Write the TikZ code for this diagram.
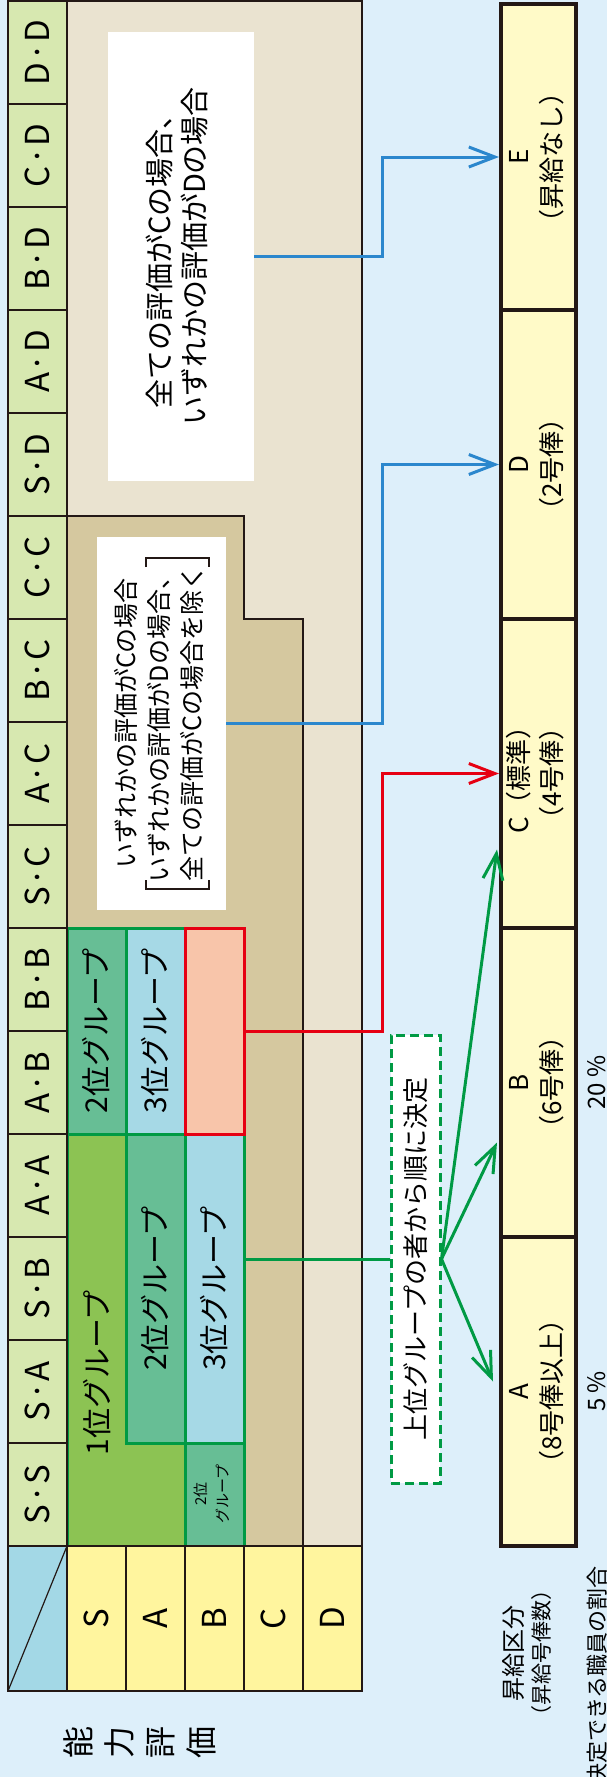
\documentclass[tikz,border=0pt]{standalone}
\usepackage{graphicx}
\usepackage{fontspec}
\setmainfont{Noto Sans CJK JP}
\usetikzlibrary{arrows.meta}
\definecolor{bgblue}{HTML}{DDEFFA}
\definecolor{hdrgreen}{HTML}{D7E8B0}
\definecolor{cornerblue}{HTML}{A3D8E6}
\definecolor{rowyellow}{HTML}{FFF59E}
\definecolor{grpA}{HTML}{8CC353}
\definecolor{grpB}{HTML}{67BE95}
\definecolor{grpC}{HTML}{A6D9E6}
\definecolor{salmon}{HTML}{F8C5AA}
\definecolor{darkbeige}{HTML}{D5C89F}
\definecolor{lightbeige}{HTML}{EAE3D0}
\definecolor{boxyellow}{HTML}{FFFAC8}
\definecolor{arrblue}{HTML}{2B87CD}
\definecolor{arrred}{HTML}{E60012}
\definecolor{arrgreen}{HTML}{009A44}
\definecolor{ink}{HTML}{231815}
\newcommand\rt[1]{\rotatebox{90}{#1}}
\newcommand\fsz[2]{\fontsize{#1}{#2}\selectfont}
\newcommand\cb[2]{#1\kern.02em·\kern.02em#2}
\newcommand\mylines[2][c]{\begin{tabular}{@{}#1@{}}#2\end{tabular}}
\begin{document}
\begin{tikzpicture}[x=1pt,y=-1pt,
  hdrcell/.style={draw=ink,line width=2.5pt,fill=hdrgreen,minimum width=59pt,minimum height=103pt,inner sep=0pt,font=\fsz{33}{40}},
  rowcell/.style={draw=ink,line width=2.5pt,fill=rowyellow,minimum width=59pt,minimum height=145pt,inner sep=0pt,font=\fsz{33}{40}},
  grplabel/.style={inner sep=0pt,font=\fsz{30}{36}},
  whitebox/.style={fill=white,inner sep=0pt},
  paybox/.style={draw=ink,line width=4pt,fill=boxyellow,minimum width=75pt,inner sep=0pt,font=\fsz{26}{33}},
  plainlabel/.style={inner sep=0pt},
  flow/.style={line width=3pt,-{Straight Barb[length=26pt,width=20pt]}},
  grpline/.style={draw=arrgreen,line width=3pt}
]
\useasboundingbox (0,0) rectangle (607,1777);
\fill[bgblue] (0,0) rectangle (607,1777);

% body
\filldraw[fill=lightbeige,draw=ink,line width=2.5pt] (67,1) rectangle (362,1546);
\filldraw[fill=darkbeige,draw=ink,line width=2.5pt] (67,516) -- (244,516) -- (244,619) -- (303,619) -- (303,1546) -- (67,1546) -- cycle;

% groups
\filldraw[grpline,fill=grpA] (67,1134) -- (126,1134) -- (126,1443) -- (185,1443) -- (185,1546) -- (67,1546) -- cycle;
\filldraw[grpline,fill=grpB] (126,1134) rectangle (185,1443);
\filldraw[grpline,fill=grpB] (185,1443) rectangle (244,1546);
\filldraw[grpline,fill=grpB] (67,928) rectangle (126,1134);
\filldraw[grpline,fill=grpC] (126,928) rectangle (185,1134);
\node[grpline,fill=grpC,minimum width=59pt,minimum height=309pt,inner sep=0pt,font=\fsz{30}{36}] (c3) at (214.5,1288.5) {\rt{3位グループ}};
\node[draw=arrred,line width=3pt,fill=salmon,minimum width=59pt,minimum height=206pt,inner sep=0pt] (sal) at (214.5,1031) {};

\node[grplabel] (g1) at (97,1373) {\rt{1位グループ}};
\node[grplabel] (g2a) at (155.5,1288.5) {\rt{2位グループ}};
\node[grplabel] (g2b) at (96.5,1031) {\rt{2位グループ}};
\node[grplabel] (g3b) at (155.5,1031) {\rt{3位グループ}};
\node[inner sep=0pt,font=\fsz{15}{22}] (g2s) at (213,1494) {\rt{\mylines{2位\\グループ}}};

% header column
\foreach \lab [count=\k from 0] in {\cb{S}{S},\cb{S}{A},\cb{S}{B},\cb{A}{A},\cb{A}{B},\cb{B}{B},\cb{S}{C},\cb{A}{C},\cb{B}{C},\cb{C}{C},\cb{S}{D},\cb{A}{D},\cb{B}{D},\cb{C}{D},\cb{D}{D}}
  \node[hdrcell] (hdr\k) at (37.5,{1494.5-103*\k}) {\rt{\lab}};

% row labels
\foreach \lab [count=\i from 0] in {S,A,B,C,D}
  \node[rowcell] (row\lab) at ({96.5+59*\i},1618.5) {\rt{\lab}};

% corner
\filldraw[fill=cornerblue,draw=ink,line width=2.5pt] (8,1546) rectangle (67,1691);
\draw[ink,line width=1.2pt] (8,1691) -- (67,1546);

% white boxes
\node[whitebox,minimum width=146pt,minimum height=449pt,font=\fsz{29}{35}] (wb1) at (181,256.5)
  {\rt{\mylines[l]{\hspace*{0.6em}全ての評価がCの場合、\\いずれかの評価がDの場合}}};
\node[whitebox,minimum width=129pt,minimum height=373pt,font=\fsz{25}{33}] (wb2) at (161.5,723.5)
  {\rt{\mylines{いずれかの評価がCの場合\\いずれかの評価がDの場合、\\全ての評価がCの場合を除く}}};
\draw[ink,line width=1.5pt] (146,880) -- (146,889) -- (209,889) -- (209,880);
\draw[ink,line width=1.5pt] (146,567) -- (146,558) -- (209,558) -- (209,567);

% dashed box
\node[draw=arrgreen,line width=3pt,dash pattern=on 9pt off 5pt,fill=white,minimum width=49pt,minimum height=448pt,inner sep=0pt,font=\fsz{26}{32}] (dbox) at (415.5,1259) {\rt{上位グループの者から順に決定}};

% pay boxes
\node[paybox,minimum height=306pt] (boxE) at (538.5,157) {\rt{\mylines{E\\（昇給なし）}}};
\node[paybox,minimum height=309pt] (boxD) at (538.5,464.5) {\rt{\mylines{D\\（2号俸）}}};
\node[paybox,minimum height=309pt] (boxC) at (538.5,773.5) {\rt{\mylines{C（標準）\\（4号俸）}}};
\node[paybox,minimum height=309pt] (boxB) at (538.5,1082.5) {\rt{\mylines{B\\（6号俸）}}};
\node[paybox,minimum height=309pt] (boxA) at (538.5,1391.5) {\rt{\mylines{A\\（8号俸以上）}}};

\node[plainlabel,font=\fsz{24}{28}] (pA) at (597,1391.5) {\rt{5 \%}};
\node[plainlabel,font=\fsz{24}{28}] (pB) at (597,1082.5) {\rt{20 \%}};

\node[plainlabel,font=\fsz{22}{27}] (kubun) at (530,1653) {\rt{\mylines{{\fsz{24}{27}昇給区分}\\{\fsz{21}{27}（昇給号俸数）}}}};
\node[plainlabel,anchor=north,font=\fsz{22}{27}] (wari) at (597,1566) {\rt{決定できる職員の割合}};
\node[plainlabel,font=\fsz{32}{41}] (nouryoku) at (144,1742) {\rt{\mylines{能\\力\\評\\価}}};

% connectors
\coordinate (bjx) at (382,0);
\draw[flow,arrblue] (wb1.east) -- (wb1.east -| bjx) |- (boxE.west);
\draw[flow,arrblue] (wb2.east) -- (wb2.east -| bjx) |- (boxD.west);
\draw[flow,arrred] (sal.east) -- (sal.east -| bjx) |- (boxC.west);
\draw[line width=3pt,arrgreen] (dbox.west -| c3.east) -- (dbox.west);
\draw[flow,arrgreen] (dbox.east) -- ([shift={(-6,-10)}]boxA.west);
\draw[flow,arrgreen] (dbox.east) -- ([shift={(-2,60)}]boxB.west);
\draw[flow,arrgreen] (dbox.east) -- ([shift={(-2,76)}]boxC.west);
\end{tikzpicture}
\end{document}
